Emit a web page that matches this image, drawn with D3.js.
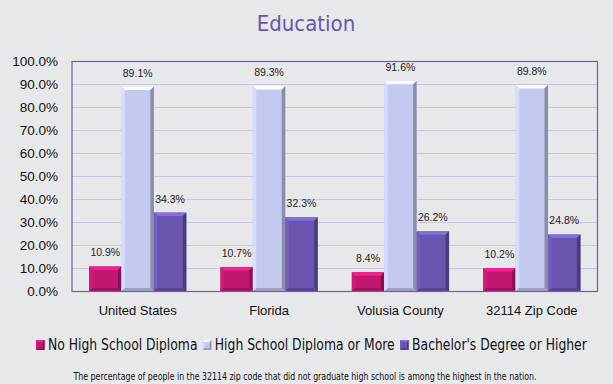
<!DOCTYPE html>
<html>
<head>
<meta charset="utf-8">
<script src="https://cdn.jsdelivr.net/npm/d3@7"></script>
<style>
  body { margin: 0; background: #e7e8ea; }
  svg { display: block; }
</style>
</head>
<body>
<svg width="613" height="384"></svg>
<script>
"use strict";

var categories = ["United States", "Florida", "Volusia County", "32114 Zip Code"];
var seriesNames = ["No High School Diploma", "High School Diploma or More", "Bachelor's Degree or Higher"];
var noDiploma = [10.9, 10.7, 8.4, 10.2];
var hsOrMore = [89.1, 89.3, 91.6, 89.8];
var bachelors = [34.3, 32.3, 26.2, 24.8];
var yTicks = [0, 10, 20, 30, 40, 50, 60, 70, 80, 90, 100];

var colors = ["#c0186f", "#c4c9f0", "#6a55ae"];
var narrow = "'Liberation Sans Narrow', 'DejaVu Sans Condensed', 'Liberation Sans', sans-serif";
var plain = "'Liberation Sans', Arial, sans-serif";

var svg = d3.select("svg"),
    margin = {top: 61.5, right: 15.5, bottom: 92.5, left: 72},
    width = 613 - margin.left - margin.right,
    height = 384 - margin.top - margin.bottom;

svg.append("rect").attr("width", 613).attr("height", 384).attr("fill", "#e7e8ea");

svg.append("text")
    .attr("x", 306).attr("y", 31)
    .attr("text-anchor", "middle")
    .attr("font-family", narrow)
    .attr("font-size", 22)
    .attr("fill", "#6a55ae")
    .text("Education");

var g = svg.append("g").attr("transform", "translate(" + margin.left + "," + margin.top + ")");

var x0 = d3.scaleBand().domain(categories).range([0, width]).paddingInner(0.26).paddingOuter(0.13);
var x1 = d3.scaleBand().domain(seriesNames).range([0, x0.bandwidth()]);
var y = d3.scaleLinear().domain([0, 100]).range([height, 0]);

// gridlines
g.selectAll(".grid").data(yTicks.slice(1, -1)).enter().append("line")
    .attr("x1", 0).attr("x2", width)
    .attr("y1", function(d) { return y(d); })
    .attr("y2", function(d) { return y(d); })
    .attr("stroke", "#c9c6de").attr("stroke-width", 1);

// y axis labels
var yAxis = g.append("g")
    .call(d3.axisLeft(y).tickValues(yTicks).tickSize(0).tickPadding(14)
        .tickFormat(function(d) { return d.toFixed(1) + "%"; }));
yAxis.select(".domain").remove();
yAxis.selectAll("text").attr("font-family", plain).attr("font-size", 13.5).attr("fill", "#111");

// x axis labels
var xAxis = g.append("g")
    .attr("transform", "translate(0," + height + ")")
    .call(d3.axisBottom(x0).tickSize(0).tickPadding(14));
xAxis.select(".domain").remove();
xAxis.selectAll("text").attr("font-family", plain).attr("font-size", 13).attr("fill", "#111");

var data = categories.map(function(c, i) {
  return {cat: c, values: [noDiploma[i], hsOrMore[i], bachelors[i]]};
});

function bevelBar(sel, w, h, col, b) {
  var c = d3.color(col);
  sel.append("rect").attr("width", w).attr("height", h).attr("fill", col);
  var faces = [
    {pts: [[0,0],[w,0],[w-b,b],[b,b]], fill: c.brighter(0.7)},
    {pts: [[0,0],[b,b],[b,h-b],[0,h]], fill: c.brighter(0.25)},
    {pts: [[w,0],[w,h],[w-b,h-b],[w-b,b]], fill: c.darker(1.0)},
    {pts: [[0,h],[b,h-b],[w-b,h-b],[w,h]], fill: c.darker(0.6)}
  ];
  sel.selectAll("polygon.f").data(faces).enter().append("polygon")
      .attr("points", function(f) { return f.pts.map(function(p) { return p.join(","); }).join(" "); })
      .attr("fill", function(f) { return f.fill; });
}

var group = g.selectAll(".grp").data(data).enter().append("g")
    .attr("transform", function(d) { return "translate(" + x0(d.cat) + ",0)"; });

group.each(function(d) {
  var gg = d3.select(this);
  d.values.forEach(function(v, j) {
    var bx = x1(seriesNames[j]), bw = x1.bandwidth();
    var bar = gg.append("g").attr("transform", "translate(" + bx + "," + y(v) + ")");
    bevelBar(bar, bw, height - y(v), colors[j], 3.5);
    gg.append("text")
        .attr("x", bx + bw / 2).attr("y", y(v) - 10)
        .attr("text-anchor", "middle")
        .attr("font-family", plain).attr("font-size", 10.5).attr("fill", "#222")
        .text(v.toFixed(1) + "%");
  });
});

// plot border
g.append("rect").attr("width", width).attr("height", height)
    .attr("fill", "none").attr("stroke", "#6e5db0").attr("stroke-width", 1.2);

// legend
var legend = svg.append("g").attr("transform", "translate(0,345)");
var items = legend.selectAll(".li").data(seriesNames).enter().append("g");
items.each(function(d, i) {
  var it = d3.select(this);
  var sw = it.append("g").attr("transform", "translate(0,-5)");
  bevelBar(sw, 10, 10, colors[i], 2);
  it.append("text").attr("x", 14).attr("y", 5)
      .attr("font-family", narrow).attr("font-size", 16).attr("fill", "#111")
      .text(d);
});
var pos = 0, widths = [];
items.each(function() { widths.push(this.getBBox().width); });
var gap = 6, total = d3.sum(widths) + gap * (widths.length - 1);
var scale = 551 / total;
items.attr("transform", function(d, i) {
  var xx = pos; pos += widths[i] + gap; return "translate(" + xx + ",0)";
});
legend.attr("transform", "translate(36,345) scale(" + scale + ",1)");

// footer
var foot = svg.append("text")
    .attr("x", 305).attr("y", 380)
    .attr("text-anchor", "middle")
    .attr("font-family", narrow).attr("font-size", 10).attr("fill", "#111")
    .text("The percentage of people in the 32114 zip code that did not graduate high school is among the highest in the nation.");
var fw = foot.node().getComputedTextLength();
foot.attr("textLength", 463).attr("lengthAdjust", "spacingAndGlyphs");
</script>
</body>
</html>
